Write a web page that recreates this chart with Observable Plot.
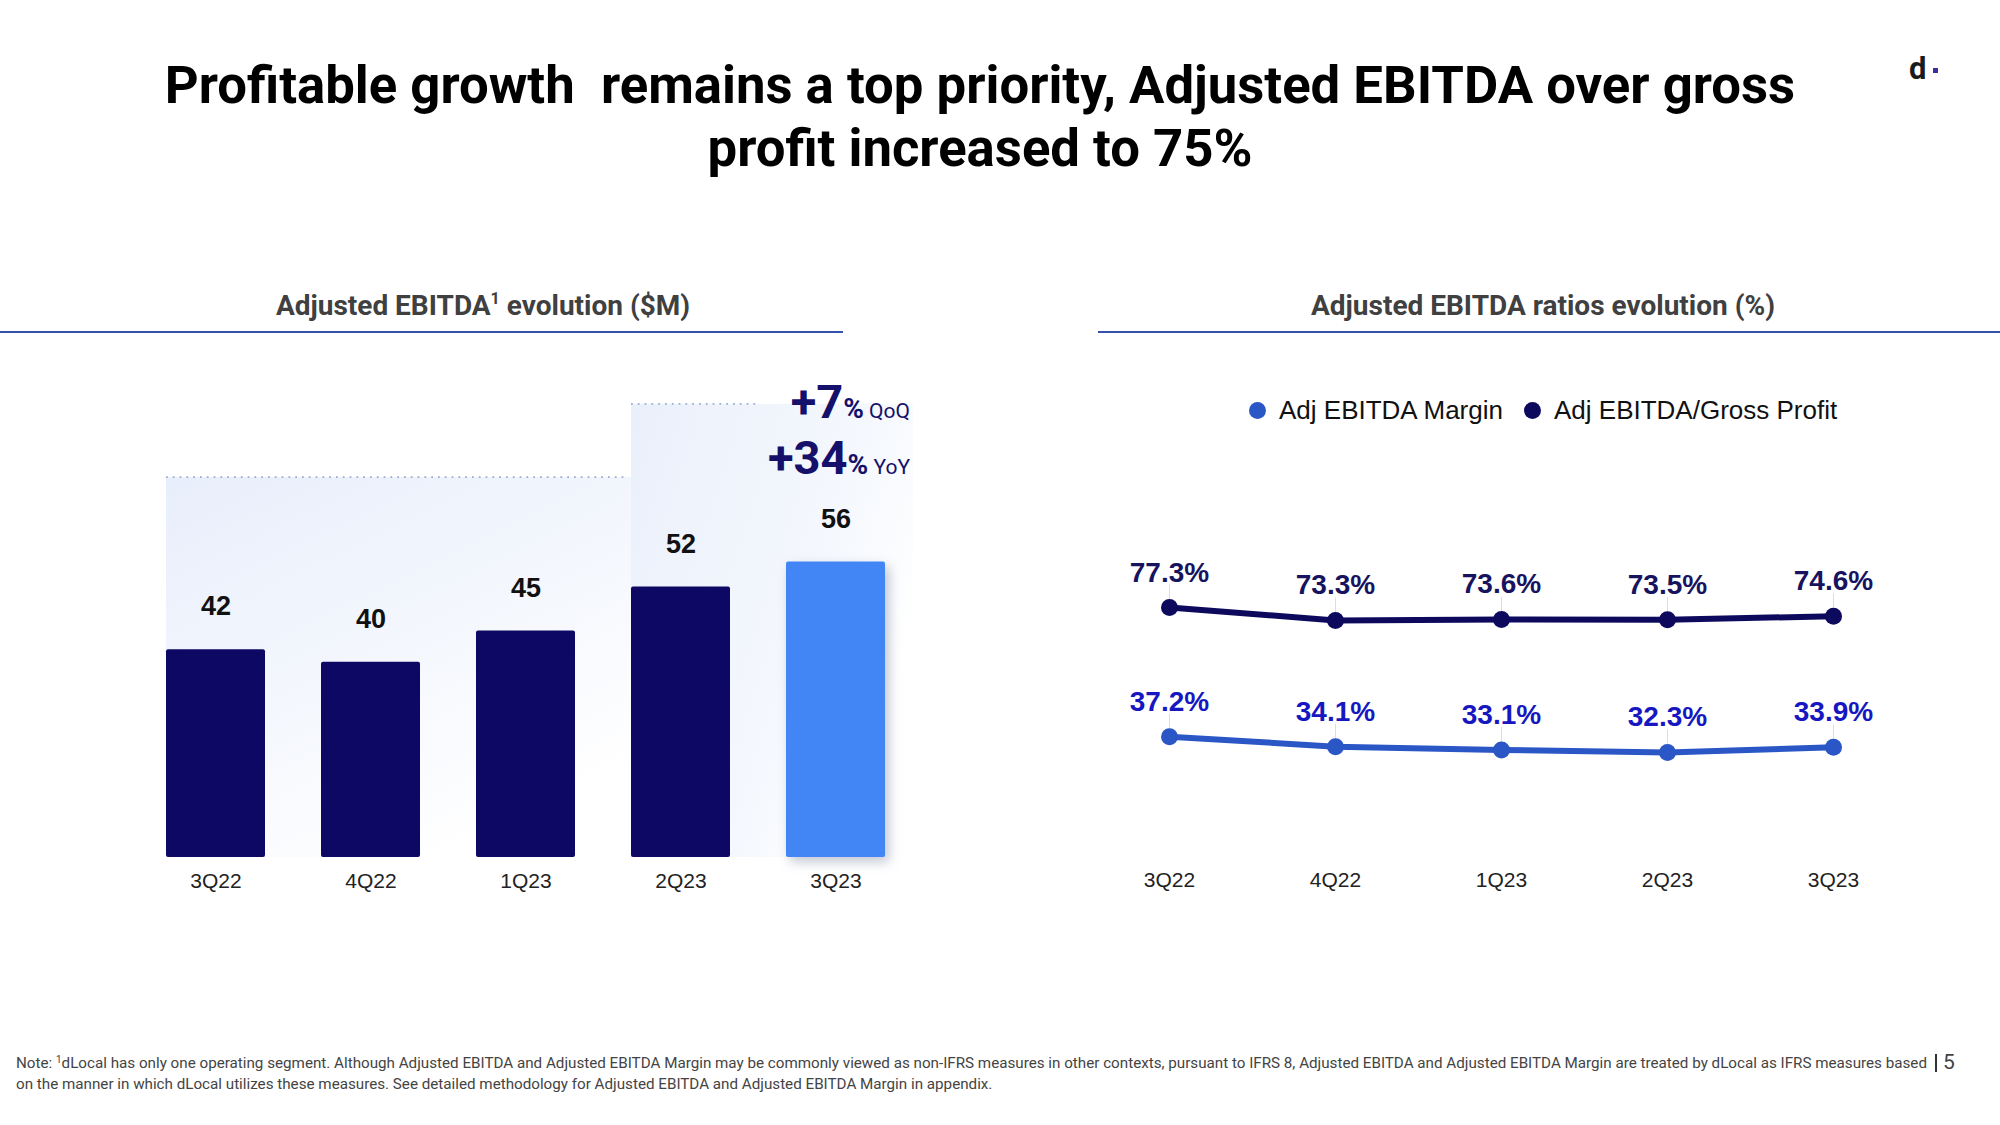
<!DOCTYPE html>
<html>
<head>
<meta charset="utf-8">
<script src="https://cdn.jsdelivr.net/npm/d3@7"></script>
<script src="https://cdn.jsdelivr.net/npm/@observablehq/plot@0.6"></script>
<style>
  html, body { margin: 0; padding: 0; background: #fff; }
  #page { position: relative; width: 2000px; height: 1125px; overflow: hidden; font-family: Roboto, "Liberation Sans", sans-serif; }
  .abs { position: absolute; white-space: nowrap; }
  #title { left: 0; width: 1960px; top: 54px; text-align: center; font-size: 52.7px; line-height: 63px; font-weight: 700; color: #000; }
  .subtitle { top: 291.5px; font-size: 28px; line-height: 28px; font-weight: 700; color: #404040; text-align: center; }
  .subtitle sup { font-size: 16px; vertical-align: 11px; line-height: 0; }
  .rule { height: 2px; top: 331px; background: #3553ad; }
  #logo { left: 1909px; top: 53px; font-size: 31px; line-height: 31px; font-weight: 700; color: #1b1b1b; }
  #logodot { left: 1933px; top: 68px; width: 5px; height: 5px; background: #3b2f9e; }
  #growth { right: 1090px; top: 373.9px; font-size: 47px; line-height: 56px; font-weight: 700; color: #15106a; text-align: right; }
  #growth .pct { font-size: 28px; font-weight: 700; line-height: 0; }
  #growth .lbl { font-size: 21px; font-weight: 400; line-height: 0; }
  #legend { left: 1249px; top: 396px; font-family: "Liberation Sans", Arial, sans-serif; font-size: 26px; line-height: 28px; color: #111; display: flex; align-items: center; }
  #legend .sw { display: inline-block; width: 17px; height: 17px; border-radius: 50%; margin-right: 13px; }
  #legend .item { display: flex; align-items: center; margin-right: 21px; }
  #note { left: 16px; top: 1053px; font-size: 15.2px; line-height: 21px; color: #444; }
  #note sup { font-size: 10px; vertical-align: 5px; line-height: 0; }
  #pagebar { left: 1935px; top: 1054px; width: 2px; height: 18px; background: #333; }
  #pagenum { left: 1943px; top: 1049px; font-size: 21px; line-height: 26px; color: #444; }
  #leftChart { position: absolute; left: 0; top: 360px; }
  #rightChart { position: absolute; left: 1090px; top: 360px; }
</style>
</head>
<body>
<div id="page">
  <div id="title" class="abs">Profitable growth&nbsp; remains a top priority, Adjusted EBITDA over gross<br>profit increased to 75%</div>
  <div id="logo" class="abs">d</div>
  <div id="logodot" class="abs"></div>

  <div class="abs subtitle" style="left:0;width:966px;">Adjusted EBITDA<sup>1</sup> evolution ($M)</div>
  <div class="abs rule" style="left:0;width:843px;"></div>
  <div class="abs subtitle" style="left:1086px;width:914px;">Adjusted EBITDA ratios evolution (%)</div>
  <div class="abs rule" style="left:1098px;width:902px;"></div>

  <div id="leftChart"></div>
  <div id="rightChart"></div>

  <div id="growth" class="abs">+7<span class="pct">%</span><span class="lbl">&nbsp;QoQ</span><br>+34<span class="pct">%</span><span class="lbl">&nbsp;YoY</span></div>

  <div id="legend" class="abs"></div>

  <div id="note" class="abs">Note: <sup>1</sup>dLocal has only one operating segment. Although Adjusted EBITDA and Adjusted EBITDA Margin may be commonly viewed as non-IFRS measures in other contexts, pursuant to IFRS 8, Adjusted EBITDA and Adjusted EBITDA Margin are treated by dLocal as IFRS measures based<br>on the manner in which dLocal utilizes these measures. See detailed methodology for Adjusted EBITDA and Adjusted EBITDA Margin in appendix.</div>
  <div id="pagebar" class="abs"></div>
  <div id="pagenum" class="abs">5</div>
</div>
<script>
// ---------- DATA ----------
const quarters = ["3Q22", "4Q22", "1Q23", "2Q23", "3Q23"];
const adjEbitda = [42, 40, 45, 52, 56];                 // $M
const adjEbitdaMargin = [37.2, 34.1, 33.1, 32.3, 33.9];  // %
const adjEbitdaGrossProfit = [77.3, 73.3, 73.6, 73.5, 74.6]; // %
const highlightQuarter = "3Q23";
const seriesNames = ["Adj EBITDA Margin", "Adj EBITDA/Gross Profit"];
// decorative background panels (level in $M scale units)
const bgPanels = [
  {from: "3Q22", to: "2Q23", level: 69.5, dotsToEnd: true},
  {from: "2Q23", to: "3Q23", level: 81.2, dotsToEnd: false}
];

// ---------- STYLE ----------
const navy = "#0e0865";
const highlight = "#4285f4";
const marginColor = "#2a56c6";
const gpColor = "#0d0a5e";
const marginLabelColor = "#1717c2";
const gpLabelColor = "#17135f";

const barRows = quarters.map((q, i) => ({q, v: adjEbitda[i]}));
const marginRows = quarters.map((q, i) => ({q, v: adjEbitdaMargin[i]}));
const gpRows = quarters.map((q, i) => ({q, v: adjEbitdaGrossProfit[i]}));

const NS = "http://www.w3.org/2000/svg";
const yBase = 8.8;

function bgMark(index, scales) {
  const x = scales.x, y = scales.y;
  const g = document.createElementNS(NS, "g");
  const defs = document.createElementNS(NS, "defs");
  defs.innerHTML = `<linearGradient id="bgGrad" x1="0" y1="0" x2="0.6" y2="1">
      <stop offset="0" stop-color="#e8eefb"/>
      <stop offset="0.55" stop-color="#f4f7fd"/>
      <stop offset="1" stop-color="#ffffff"/>
    </linearGradient>
    <linearGradient id="bgGrad2" x1="0" y1="0" x2="1" y2="0.5">
      <stop offset="0" stop-color="#eaf0fb"/>
      <stop offset="0.7" stop-color="#f5f8fd"/>
      <stop offset="1" stop-color="#ffffff"/>
    </linearGradient>`;
  g.appendChild(defs);
  const bw = x.bandwidth();
  const gap = x.step() - bw;
  const bottom = y(yBase);
  bgPanels.forEach((p, i) => {
    const last = p.to === quarters[quarters.length - 1] && i === bgPanels.length - 1;
    const x1 = x(p.from);
    const x2 = last ? x(p.to) + bw + gap / 2 : x(p.to);
    const top = y(p.level);
    const r = document.createElementNS(NS, "rect");
    r.setAttribute("x", x1); r.setAttribute("y", top);
    r.setAttribute("width", x2 - x1); r.setAttribute("height", bottom - top);
    r.setAttribute("fill", i === 0 ? "url(#bgGrad)" : "url(#bgGrad2)");
    g.appendChild(r);
    const l = document.createElementNS(NS, "line");
    const lx2 = p.dotsToEnd ? x2 - 4 : x(p.to) - gap / 2;
    l.setAttribute("x1", x1); l.setAttribute("x2", lx2);
    l.setAttribute("y1", top); l.setAttribute("y2", top);
    l.setAttribute("stroke", "#9eadcf"); l.setAttribute("stroke-width", 1.8);
    l.setAttribute("stroke-dasharray", "1.8 5");
    g.appendChild(l);
  });
  return g;
}

const left = Plot.plot({
  width: 1000, height: 560,
  marginLeft: 108, marginRight: 56.5, marginTop: 0, marginBottom: 63,
  x: {domain: quarters, padding: 0.36, tickSize: 0, tickPadding: 16, label: null},
  y: {domain: [yBase, 88.2], axis: null},
  style: {fontFamily: "'Liberation Sans', Arial, sans-serif", fontSize: "21px", color: "#222", background: "transparent", overflow: "visible"},
  marks: [
    bgMark,
    Plot.barY(barRows.filter(d => d.q !== highlightQuarter), {x: "q", y1: yBase, y2: "v", fill: navy, rx: 2}),
    Plot.barY(barRows.filter(d => d.q === highlightQuarter), {x: "q", y1: yBase, y2: "v", fill: highlight, rx: 2}),
    Plot.text(barRows, {x: "q", y: "v", text: d => String(d.v), dy: -43, fontSize: 27, fontWeight: "bold", fill: "#111"})
  ]
});
d3.select(left).selectAll(`g[fill="${highlight}"]`).style("filter", "drop-shadow(4px 5px 6px rgba(40,55,100,0.28))");
document.getElementById("leftChart").appendChild(left);

const right = Plot.plot({
  width: 910, height: 560,
  marginLeft: 78, marginRight: 167, marginTop: 0, marginBottom: 64,
  x: {type: "point", domain: quarters, padding: 0, tickSize: 0, tickPadding: 16, label: null},
  y: {domain: [0, 154], axis: null},
  style: {fontFamily: "'Liberation Sans', Arial, sans-serif", fontSize: "21px", color: "#222", background: "transparent", overflow: "visible"},
  marks: [
    Plot.ruleX(gpRows, {x: "q", y1: "v", y2: d => d.v + 7, stroke: "#dddddd", strokeWidth: 1}),
    Plot.ruleX(marginRows, {x: "q", y1: "v", y2: d => d.v + 7, stroke: "#dddddd", strokeWidth: 1}),
    Plot.line(gpRows, {x: "q", y: "v", stroke: gpColor, strokeWidth: 6}),
    Plot.dot(gpRows, {x: "q", y: "v", r: 8.5, fill: gpColor}),
    Plot.text(gpRows, {x: "q", y: "v", text: d => d.v.toFixed(1) + "%", dy: -35, fontSize: 28, fontWeight: "bold", fill: gpLabelColor}),
    Plot.line(marginRows, {x: "q", y: "v", stroke: marginColor, strokeWidth: 6}),
    Plot.dot(marginRows, {x: "q", y: "v", r: 8.5, fill: marginColor}),
    Plot.text(marginRows, {x: "q", y: "v", text: d => d.v.toFixed(1) + "%", dy: -35, fontSize: 28, fontWeight: "bold", fill: marginLabelColor})
  ]
});
document.getElementById("rightChart").appendChild(right);

// legend
const legend = document.getElementById("legend");
[[seriesNames[0], marginColor], [seriesNames[1], gpColor]].forEach(([name, c]) => {
  const item = document.createElement("span");
  item.className = "item";
  item.innerHTML = `<span class="sw" style="background:${c}"></span><span>${name}</span>`;
  legend.appendChild(item);
});
</script>
</body>
</html>
